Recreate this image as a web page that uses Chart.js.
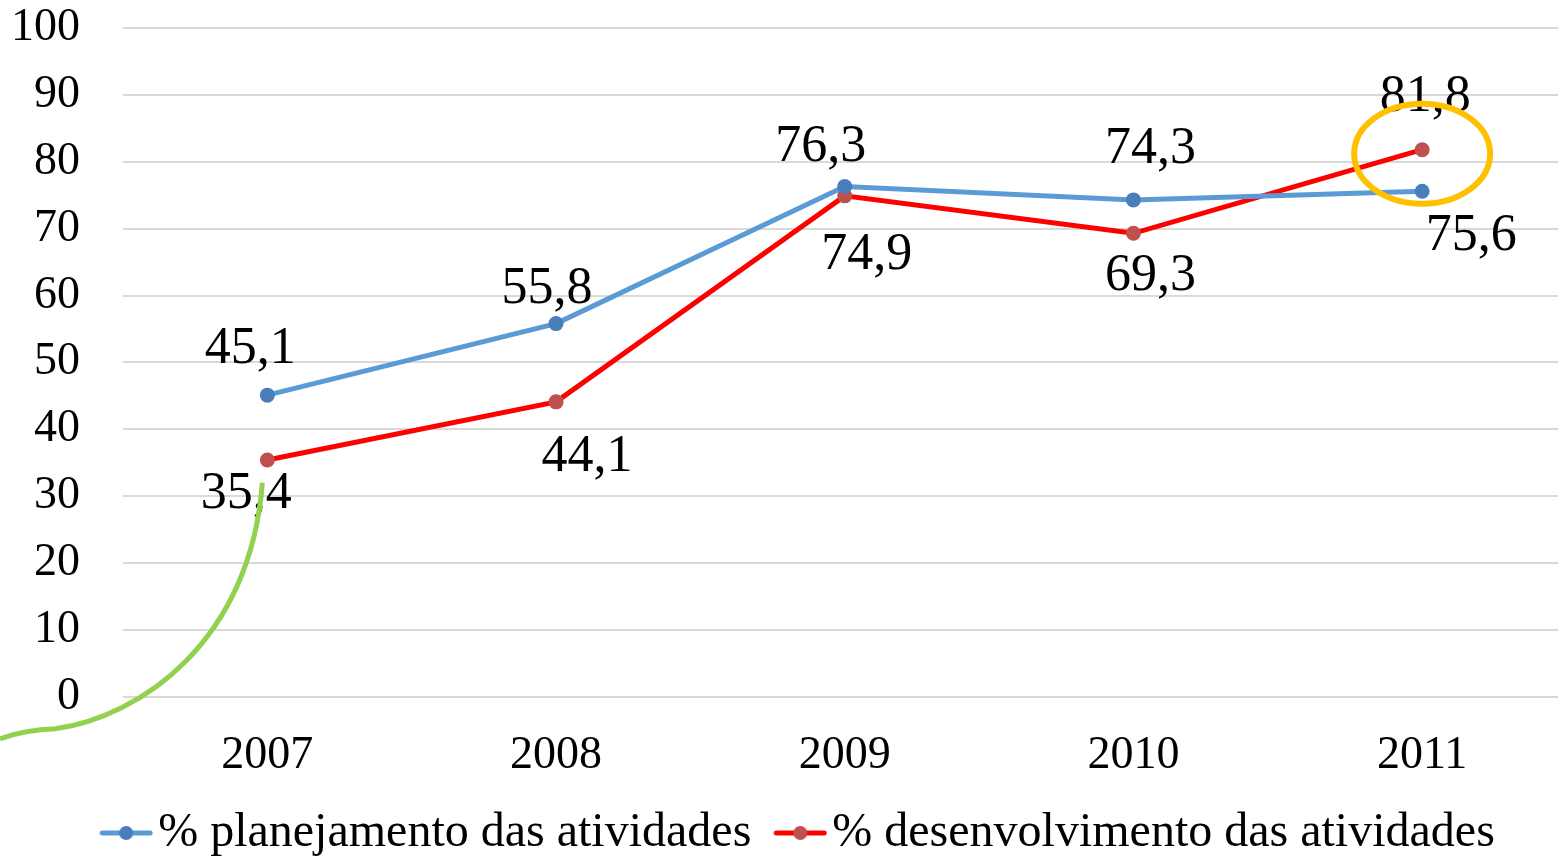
<!DOCTYPE html>
<html>
<head>
<meta charset="utf-8">
<script src="https://cdn.jsdelivr.net/npm/chart.js@4.4.0/dist/chart.umd.min.js"></script>
<style>
    html, body { margin: 0; padding: 0; background: #fff; overflow: hidden; }
    #lineChart { display: block; }
</style>
</head>
<body>
<canvas id="lineChart" width="1574" height="857"></canvas>
<script>
const YEARS = ['2007', '2008', '2009', '2010', '2011'];
const PLANEJAMENTO = [45.1, 55.8, 76.3, 74.3, 75.6];
const DESENVOLVIMENTO = [35.4, 44.1, 74.9, 69.3, 81.8];
const Y_TICKS = [0, 10, 20, 30, 40, 50, 60, 70, 80, 90, 100];

// where each value label sits, relative to its point (px)
const BLUE_LABEL_SHIFT = [[-17, -46], [-9, -34], [-24, -39], [17, -51], [49, 45]];
const RED_LABEL_SHIFT = [[-21, 34], [31, 55], [22, 59], [17, 43], [3, -52]];

const FONT = '"Liberation Serif", "Times New Roman", serif';
const BLUE_LINE = '#5b9bd5';
const BLUE_DOT = '#4a7ebb';
const RED_LINE = '#ff0000';
const RED_DOT = '#c0504d';
const LEGEND_SHIFT = 18;

// legend marker: short line with a dot, drawn in the right part of the image
function legendMark(lineColor, dotColor) {
    const c = document.createElement('canvas');
    c.width = 89;
    c.height = 16;
    const g = c.getContext('2d');
    g.strokeStyle = lineColor;
    g.lineWidth = 5;
    g.lineCap = 'round';
    g.beginPath();
    g.moveTo(38, 8);
    g.lineTo(86, 8);
    g.stroke();
    g.fillStyle = dotColor;
    g.beginPath();
    g.arc(62, 8, 7, 0, Math.PI * 2);
    g.fill();
    return c;
}

const valueLabels = {
    id: 'valueLabels',
    afterDatasetsDraw(chart) {
        const ctx = chart.ctx;
        const shifts = [BLUE_LABEL_SHIFT, RED_LABEL_SHIFT];
        ctx.save();
        ctx.font = '52px ' + FONT;
        ctx.fillStyle = '#000';
        ctx.textAlign = 'center';
        ctx.textBaseline = 'middle';
        chart.data.datasets.forEach((ds, i) => {
            chart.getDatasetMeta(i).data.forEach((pt, j) => {
                const [dx, dy] = shifts[i][j];
                ctx.fillText(String(ds.data[j]).replace('.', ','), pt.x + dx, pt.y + dy);
            });
        });
        ctx.restore();
    }
};

const marks = {
    id: 'marks',
    afterLayout(chart) {
        if (chart.legend) {
            chart.legend.left += LEGEND_SHIFT;
            chart.legend.right += LEGEND_SHIFT;
        }
    },
    afterDraw(chart) {
        const ctx = chart.ctx;
        const x = chart.scales.x;
        const y = chart.scales.y;
        ctx.save();

        // orange ring round the last red point
        const last = chart.getDatasetMeta(1).data[4];
        ctx.strokeStyle = '#ffc000';
        ctx.lineWidth = 6;
        ctx.beginPath();
        ctx.ellipse(last.x, last.y + 4, 68, 50, 0, 0, Math.PI * 2);
        ctx.stroke();

        // green stroke rising to the first year
        const topX = x.getPixelForValue(0) - 5;
        const topY = y.getPixelForValue(32);
        const baseY = y.getPixelForValue(0);
        ctx.strokeStyle = '#92d050';
        ctx.lineWidth = 5;
        ctx.beginPath();
        ctx.moveTo(0, baseY + 42);
        ctx.quadraticCurveTo(25, baseY + 33, 55, baseY + 32);
        ctx.bezierCurveTo(140, baseY + 20, topX - 12, baseY - 55, topX, topY);
        ctx.stroke();

        ctx.restore();
    }
};

new Chart(document.getElementById('lineChart'), {
    type: 'line',
    data: {
        labels: YEARS,
        datasets: [{
            label: '% planejamento das atividades',
            data: PLANEJAMENTO,
            borderColor: BLUE_LINE,
            backgroundColor: BLUE_DOT,
            pointBackgroundColor: BLUE_DOT,
            pointBorderWidth: 0,
            pointRadius: 7.5,
            borderWidth: 5,
            tension: 0,
            pointStyle: 'circle'
        }, {
            label: '% desenvolvimento das atividades',
            data: DESENVOLVIMENTO,
            borderColor: RED_LINE,
            backgroundColor: RED_DOT,
            pointBackgroundColor: RED_DOT,
            pointBorderWidth: 0,
            pointRadius: 7.5,
            borderWidth: 5,
            tension: 0,
            pointStyle: 'circle'
        }]
    },
    options: {
        responsive: false,
        animation: false,
        layout: { padding: { left: -32, top: 28, right: 0, bottom: -10 } },
        plugins: {
            tooltip: { enabled: false },
            legend: {
                position: 'bottom',
                labels: {
                    font: { family: FONT, size: 48 },
                    color: '#000',
                    usePointStyle: true,
                    pointStyleWidth: 51,
                    padding: 6,
                    generateLabels(chart) {
                        return chart.data.datasets.map((ds, i) => ({
                            text: ds.label,
                            datasetIndex: i,
                            pointStyle: legendMark(ds.borderColor, ds.pointBackgroundColor),
                            fontColor: '#000',
                            lineWidth: 0,
                            hidden: false
                        }));
                    }
                }
            }
        },
        scales: {
            x: {
                offset: true,
                grid: { display: false, drawTicks: false },
                border: { display: false },
                ticks: { font: { family: FONT, size: 46 }, color: '#000', padding: 32 },
                afterFit(axis) {
                    axis.height -= 13;
                }
            },
            y: {
                min: 0,
                max: 100,
                afterBuildTicks(axis) {
                    axis.ticks = Y_TICKS.map(v => ({ value: v }));
                },
                afterFit(axis) {
                    axis.paddingTop = 0;
                    axis.paddingBottom = 0;
                },
                grid: { color: '#d9d9d9', lineWidth: 2, drawTicks: false },
                border: { display: false },
                ticks: { font: { family: FONT, size: 46 }, color: '#000', padding: 43 }
            }
        }
    },
    plugins: [valueLabels, marks]
});
</script>
</body>
</html>
